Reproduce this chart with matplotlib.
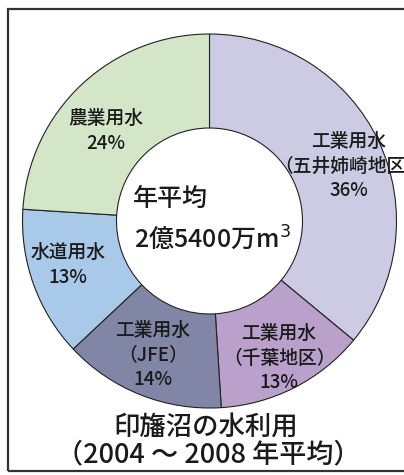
import matplotlib

matplotlib.use("Agg")
import matplotlib.pyplot as plt
from matplotlib.patches import Rectangle

plt.rcParams["font.family"] = ["Noto Sans CJK JP", "DejaVu Sans"]
plt.rcParams["font.weight"] = "medium"

# 印旛沼の水利用 (2004-2008 年平均), clockwise from top
labels = ["工業用水\n（五井姉崎地区）", "工業用水\n（千葉地区）", "工業用水\n（JFE）", "水道用水", "農業用水"]
shares = [36, 13, 14, 13, 24]
colors = ["#cdcbe3", "#baa1cb", "#8185a6", "#a8c9e8", "#d3e6c7"]

W, H = 404, 475


def py(y):
    # pixel row from top -> data y
    return H - y


fig = plt.figure(figsize=(W / 100, H / 100), dpi=100)
ax = fig.add_axes([0, 0, 1, 1])

ax.add_patch(Rectangle((8, py(471)), 420, 462, fill=False, ec="#333333", lw=1.6))

cx, cy, r = 209.5, py(221), 187
ax.pie(
    shares,
    colors=colors,
    startangle=90,
    counterclock=False,
    center=(cx, cy),
    radius=r,
    frame=True,
    wedgeprops=dict(width=r - 93, edgecolor="#222222", linewidth=0.8),
)
ax.set_xlim(0, W)
ax.set_ylim(0, H)
ax.set_aspect("equal")
ax.axis("off")

lab_pos = [(349, 166), (279, 358), (153, 355), (68, 265), (106, 131)]
for lab, s, (x, y) in zip(labels, shares, lab_pos):
    ax.text(x, py(y), f"{lab}\n{s}%", ha="center", va="center",
            fontsize=13.5, linespacing=1.38, color="#1a1a1a")

ax.text(170, py(199), "年平均", ha="center", va="center", fontsize=18, color="#1a1a1a")
ax.text(212, py(239), "2億5400万m$^3$", ha="center", va="center", fontsize=18, color="#1a1a1a")

ax.text(206, py(428), "印旛沼の水利用", ha="center", va="center", fontsize=19, color="#1a1a1a")
ax.text(208, py(455), "（2004 ～ 2008 年平均）", ha="center", va="center", fontsize=19.5, color="#1a1a1a")

fig.savefig("out.png", dpi=100)
